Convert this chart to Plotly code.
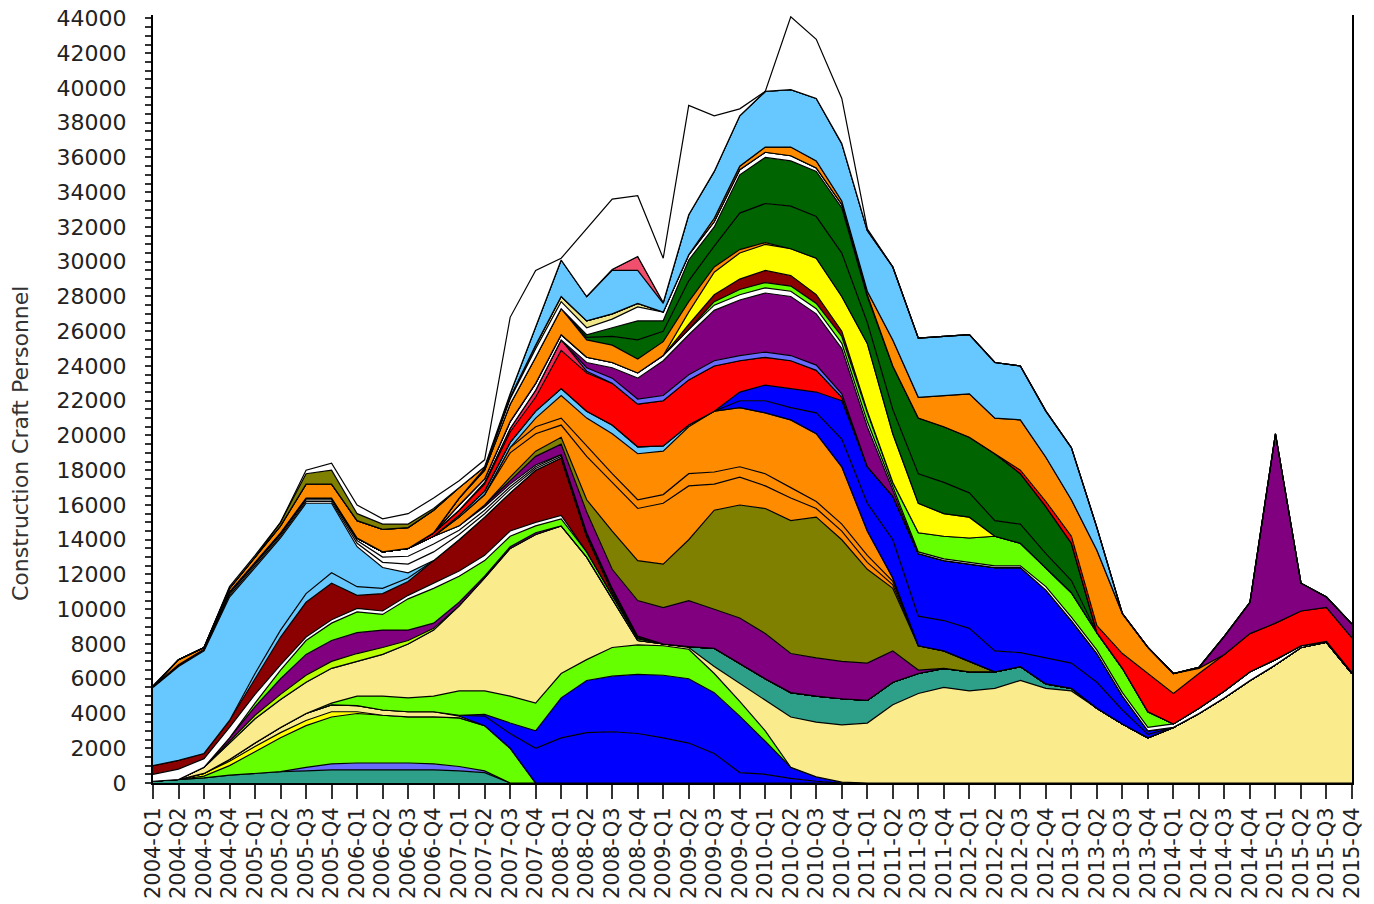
import plotly.graph_objects as go

QUARTERS = [f"{y}-Q{q}" for y in range(2004, 2016) for q in range(1, 5)]

# ---- series values (persons), bottom of stack first ----
teal_a = [100,200,300,450,550,650,700,750,750,750,750,750, 700,600,0,0,0,0,0,0,0,0,0,0] + [0]*24
slate_a = [0,0,0,0,0,0,200,350,400,400,400,350, 250,100,0,0,0,0,0,0,0,0,0,0] + [0]*24
green_a = [0,0,100,550,1250,1950,2400,2700,2850,2750,2650,2700, 2800,2600,2000,0,0,0,0,0,0,0,0,0] + [0]*24
yellow_a = [0,0,150,250,300,300,300,300,100,0,0,0] + [0]*36
pale_small = [0,0,0,100,200,300,400,400,350,300,300,300, 100,0,0,0,0,0,0,0,0,0,0,0] + [0]*24
blue_a = [0]*12 + [50,550,850,2000,2600,2900,2950,2850,2600,2300,1700,600, 500,270,100,0,0,0,0,0,0,0,0,0] + [0]*12
blue_b = [0]*12 + [0,100,600,1000,2300,3000,3200,3400,3600,3700,3500,3250, 1900,630,250,50,0,0,0,0,0,0,0,0] + [0]*12
green_b = [0,0,0,0,0,0,0,100,550,800,800,900, 1400,1350,1550,1600,1400,1200,1650,1700,1700,1700,1100,850, 600,0,0,0,0,0,0,0,0,0,0,0] + [0]*12
pale = [0,0,350,950,1400,1600,1800,2000,2000,2400,3100,3800,
        4900,6500,8500,9700,8500,5900,2800,250,100,100,400,1050,
        1750,2900,3150,3300,3450,4500,5150,5500,5300,5450,5900,5450,
        5300,4300,3400,2600,3200,4000,4900,5900,6800,7800,8100,6300]
teal_b = [0]*21 + [50,1050,1150, 1250,1400,1500,1500,1300,1300,1150,1100,1100,950,800,250, 150] + [0]*11
yellowgreen = [0,0,0,100,200,300,400,400,450,400,200,100] + [0]*36
purple_e = [0,0,0,200,500,900,1200,1200,1200,1000,600,300, 200,100,100,100] + [0]*32
green_c = [0,0,0,0,200,500,800,1000,1200,900,1800,2000, 1500,900,600,400,400,300,200,100] + [0]*28
white_a = [400,600,500,600,500,300,200,200,200,200,200,300, 300,300,300,200,200] + [0]*31
darkred = [500,500,300,400,900,1600,2000,2100,750,1000,800,1300, 1800,2200,2200,3000,3300,900,200,50] + [0]*28
lb_thin = [0,0,0,0,300,400,500,600,500,300,200,0] + [0]*36
lightblue_a = [4500,5400,5900,7100,6100,5300,5200,4000,2300,1200,300,0] + [0]*36
white_c1 = [50,50,50,100,100,100,100,100,200,300,500,500, 300,200,200,100,100,100,100,50] + [0]*28
white_c2 = [0,50,50,100,100,100,100,100,150,300,450,450, 250,200,150,100,100,100,100,50] + [0]*28
white_c3 = [0,0,0,100,100,100,100,100,150,300,450,450, 250,200,150,100,0,0,0,0] + [0]*28
purple_a = [0]*12 + [0,100,200,500,600,1200,1100,2050,2100,2650,2250,2600,
                     2600,2250,2200,2150,2150,1800,200,0,0,0,0,0] + [0]*12
olive_a = [0]*12 + [0,0,200,300,400,700,2200,2300,2500,3500,5700,6500,
                    7200,7650,8100,7000,5400,3600,1400,1000,600,0,0,0] + [0]*12
orange_a1 = [0]*12 + [500,600,1400,1000,700,2500,2800,3000,3500,3100,1500,1600,
                      1300,1300,500,500,400,200,0,0,0,0,0,0] + [0]*12
orange_a2 = [0]*12 + [0,0,300,400,400,600,500,500,500,700,700,600,
                      700,600,400,400,400,200,0,0,0,0,0,0] + [0]*12
orange_a3 = [0]*12 + [0,0,0,500,1300,1600,2300,2650,2500,2700,3500,3400,
                      3500,3900,3900,3300,1400,200,0,0,0,0,0,0] + [0]*12
lb_b = [0]*12 + [100,200,300,400,400,400,500,400,300,100,0,0] + [0]*24
blue_c = [0]*23 + [400, 700,700,1200,1600,1600,2200,1700,1750,1900,1200,800,1500,
                   1450,1500,800,200] + [0]*8
blue_d = [0]*23 + [500, 900,1100,1200,2200,2100,2500,3600,3450,3700,4800,4900,3900,
                   2450,1650,800,200] + [0]*8
red = [0,0,0,0,0,0,0,0,0,0,0,200, 300,400,600,800,2200,2200,2400,2450,2600,2600,2600,1800,
       1600,1600,1250,200] + [0]*20
crimson = [0]*12 + [0,100,200,400,600,100] + [0]*30
slate_b = [0]*17 + [200,300,300,300,300,300,300, 300,300,300,200] + [0]*20
purple_c = [0]*17 + [300,600,1200,2000,2300,2900,3200, 3400,3400,2950,2600,2300,400] + [0]*18
white_f = [0]*12 + [300,200,400,400,300,300,300,300,300,300,300,300,
                    300,300,300,300,300,100,100,100,100,100,100,200,
                    200,200,200,200,200,300,400,500,300,100,50,50]
green_d = [0]*22 + [200,300, 300,300,300,400,500,300,1100,1300,1400,1700,1300,1100,
                    1400,1000,1400,900] + [0]*8
darkred_b = [0]*21 + [300,400,600, 700,600,500,300,100] + [0]*19
yellow_b = [0]*21 + [700,1300,1500, 1500,1550,2100,2000,3900,2800,1700,1300,1200] + [0]*15
orange_d = [0]*12 + [400,500,1000,1500,1500,1000,1000,800,800,600,300,200, 100] + [0]*23
dg_a = [0]*17 + [150,500,1100,600,1200,1200,2100,
                 2250,2450,2400,2500,1200,1400,1700,1800,1400,900,1100,800, 700] + [0]*11
dg_b = [0]*17 + [150,500,1100,600,1200,1100,2200,
                 2650,2600,2600,2600,1500,2500,3200,3200,3200,3850,2900,2700, 2150] + [0]*11
white_g = [0]*12 + [0,100,300,500,400,400,500,800,500,300,300,300,
                    300,300,200,200,100] + [0]*19
khaki = [0]*12 + [0,0,100,200,300,400,300,200] + [0]*28
red_b = [0]*34 + [200,300, 400,400,850,2200,1750,2000,2100,2200,2100,2000,1950,2000]
orange_e = [0,300,100,200,300,400,800,800,1000,1300,1200,1300,
            600,100,0,0,0,0,0,0,0,0,200,200,
            300,500,400,200,200,1500,1200,1800,2500,2050,2900,2550,
            2100,4350,2300,1500,1150,300,0,0,0,0,0,0]
purple_d = [0]*41 + [50,1050,1800,10900,1600,600,800]
lb_c = [0]*12 + [0,0,200,1100,2100,1400,2500,1900,500,2300,2700,2900,
                 3200,3300,3600,3300,3500,4200,3400,3400,3400,3200,3100,2650,
                 3000,1300] + [0]*10
pink = [0]*18 + [50,800,50] + [0]*27
olive_top = [0,0,0,0,0,200,600,800,400,300,200,100] + [0]*36
top_white = [50,0,0,100,100,0,200,400,500,300,600,600,
             400,400,4400,3200,100,3900,4050,3500,2550,6300,3200,400,
             0,4200,3400,2600,100] + [0]*19

TEAL = "#2e9f88"; SLATE = "#6a6aff"; GREEN = "#66ff00"; YELLOW = "#ffff00"
BLUE = "#0000ff"; PALE = "#faeb8c"; YG = "#b8ff00"; PURPLE = "#800080"
DARKRED = "#8b0000"; LBLUE = "#66c8ff"; OLIVE = "#808000"; ORANGE = "#ff8c00"
RED = "#ff0000"; CRIMSON = "#f0285a"; DGREEN = "#006400"; PINK = "#f0506e"
KHAKI = "#f0e68c"; WHITE = "#ffffff"

layers = [
    ("teal_a", teal_a, TEAL), ("slate_a", slate_a, SLATE), ("green_a", green_a, GREEN),
    ("yellow_a", yellow_a, YELLOW), ("pale_small", pale_small, PALE),
    ("blue_a", blue_a, BLUE), ("blue_b", blue_b, BLUE), ("green_b", green_b, GREEN),
    ("pale", pale, PALE), ("teal_b", teal_b, TEAL), ("yellowgreen", yellowgreen, YG),
    ("purple_e", purple_e, PURPLE), ("green_c", green_c, GREEN), ("white_a", white_a, WHITE),
    ("darkred", darkred, DARKRED), ("lb_thin", lb_thin, LBLUE), ("lightblue_a", lightblue_a, LBLUE),
    ("white_c1", white_c1, WHITE), ("white_c2", white_c2, WHITE), ("white_c3", white_c3, WHITE),
    ("purple_a", purple_a, PURPLE), ("olive_a", olive_a, OLIVE),
    ("orange_a1", orange_a1, ORANGE), ("orange_a2", orange_a2, ORANGE), ("orange_a3", orange_a3, ORANGE),
    ("lb_b", lb_b, LBLUE), ("blue_c", blue_c, BLUE), ("blue_d", blue_d, BLUE),
    ("red", red, RED), ("crimson", crimson, CRIMSON), ("slate_b", slate_b, SLATE),
    ("purple_c", purple_c, PURPLE), ("white_f", white_f, WHITE), ("green_d", green_d, GREEN),
    ("darkred_b", darkred_b, DARKRED), ("yellow_b", yellow_b, YELLOW), ("orange_d", orange_d, ORANGE),
    ("dg_a", dg_a, DGREEN), ("dg_b", dg_b, DGREEN), ("white_g", white_g, WHITE),
    ("khaki", khaki, KHAKI), ("red_b", red_b, RED), ("orange_e", orange_e, ORANGE),
    ("purple_d", purple_d, PURPLE), ("lb_c", lb_c, LBLUE), ("pink", pink, PINK),
    ("olive_top", olive_top, OLIVE), ("top_white", top_white, WHITE),
]

fig = go.Figure()
for name, vals, col in layers:
    fig.add_trace(go.Scatter(
        x=QUARTERS, y=vals, name=name, mode="lines", stackgroup="one",
        fillcolor=col, line=dict(color="black", width=1.2), hoverinfo="skip",
    ))

FONT = "DejaVu Sans"
W, H = 1374, 904
L, R, T, B = 153, 22, 15, 121
fig.update_layout(
    width=W, height=H, showlegend=False,
    paper_bgcolor="white", plot_bgcolor="white",
    margin=dict(l=L, r=R, t=T, b=B, autoexpand=False),
    font=dict(family=FONT, size=22, color="#222"),
    annotations=[dict(
        text="Construction Craft Personnel", textangle=-90,
        xref="paper", yref="paper",
        x=(20 - L) / (W - L - R), y=(H - B - 444) / (H - T - B),
        xanchor="center", yanchor="middle", showarrow=False,
        font=dict(size=22, family=FONT, color="#333"),
    )],
)
fig.update_xaxes(
    type="category", range=[0, 47], tickangle=-90, automargin=False,
    tickmode="linear", tick0=0, dtick=1, ticklabeloverflow="allow",
    showline=True, linecolor="black", linewidth=2,
    ticks="outside", ticklen=14, tickwidth=1.5, tickcolor="#333",
    showgrid=False, zeroline=False, tickfont=dict(size=21, family=FONT, color="#222"),
)
fig.update_yaxes(
    range=[0, 44200], dtick=2000, tick0=0, tickformat="d", automargin=False,
    showline=True, linecolor="black", linewidth=2, mirror=True,
    ticks="outside", ticklen=6, tickwidth=1.5, tickcolor="#333",
    ticklabelstandoff=14, ticklabeloverflow="allow",
    minor=dict(dtick=500, ticks="outside", ticklen=6, tickwidth=1.5, tickcolor="#333", showgrid=False),
    showgrid=False, zeroline=False,
    tickfont=dict(size=22, family=FONT, color="#222"),
)
fig.write_html("out.html", config={"displayModeBar": False},
               post_script="document.body.style.margin='0px';")
